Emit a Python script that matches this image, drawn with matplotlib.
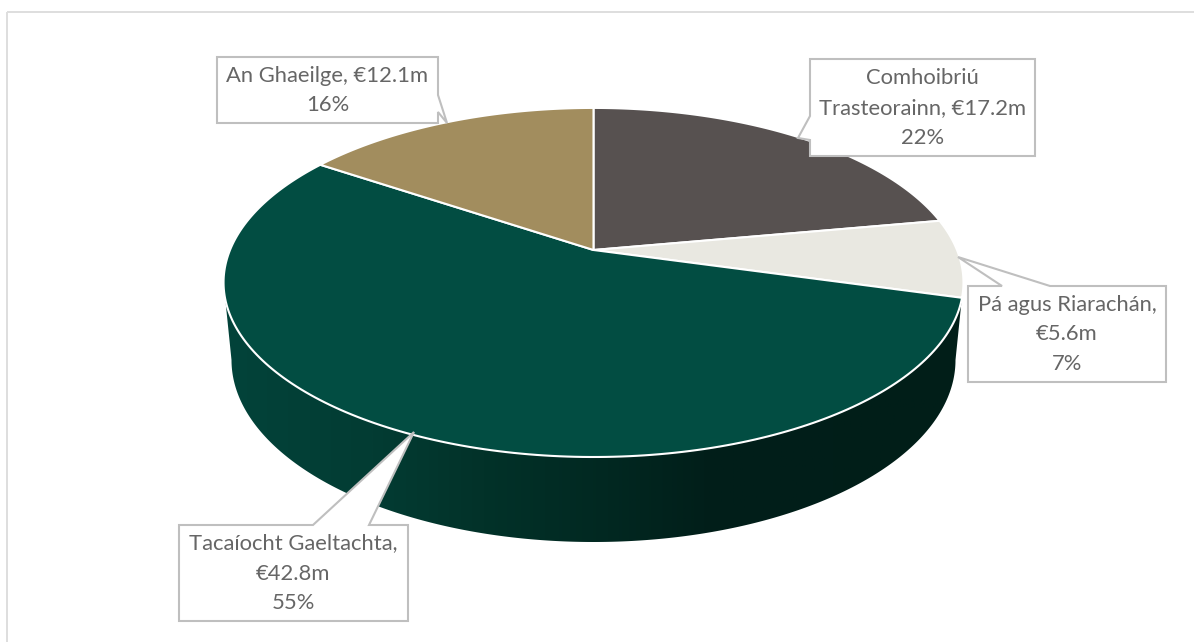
import numpy as np
import matplotlib
matplotlib.use('Agg')
import matplotlib.pyplot as plt
from matplotlib.patches import Polygon

# Chart data
categories = ['Comhoibriú Trasteorainn', 'Pá agus Riarachán', 'Tacaíocht Gaeltachta', 'An Ghaeilge']
amounts = [17.2, 5.6, 42.8, 12.1]
percents = [22, 7, 55, 16]
colors = ['#575150', '#E9E8E1', '#024D42', '#A28D5E']

# Label text, with the line breaks of the reference
labels = ['Comhoibriú\nTrasteorainn, €17.2m\n22%',
          'Pá agus Riarachán,\n€5.6m\n7%',
          'Tacaíocht Gaeltachta,\n€42.8m\n55%',
          'An Ghaeilge, €12.1m\n16%']

# Callouts: box (x0, y0, x1, y1) and pointer path, in pixels
boxes = [(810, 59, 1035, 156), (968, 286, 1166, 382), (179, 525, 408, 621), (217, 57, 438, 123)]
outlines = [
    [(810, 59), (1035, 59), (1035, 156), (810, 156), (810, 140), (798, 138), (810, 116)],
    [(968, 286), (1002, 286), (958, 257), (1050, 286), (1166, 286), (1166, 382), (968, 382)],
    [(179, 525), (313, 525), (414, 432), (369, 525), (408, 525), (408, 621), (179, 621)],
    [(217, 57), (438, 57), (438, 95), (447, 123), (438, 112), (438, 123), (217, 123)],
]

# Pie geometry (perspective view of a tilted disc), pixels
apex_x, apex_y = 593.5, 250
scale_x, scale_y, persp = 363.5, 168.5, 0.186


def rim(angle):
    # angle is clockwise from the top of the disc
    u, v = np.sin(angle), np.cos(angle)
    w = 1 + persp * v
    return apex_x + scale_x * u / w, apex_y - scale_y * v / w


fig = plt.figure(figsize=(11.94, 6.42), dpi=100, facecolor='white')
ax = fig.add_axes([0, 0, 1, 1])
ax.set_xlim(0, 1194)
ax.set_ylim(642, 0)
ax.set_axis_off()

# Outer chart frame, only the top and left sides are inside the picture
ax.add_patch(plt.Rectangle((7, 12), 1200, 640, fill=False, ec='#DEDEDE', lw=1.4))

# Side wall of the pie, a horizontal gradient clipped to the wall shape
side = np.arccos(-persp)
ang = np.linspace(side, 2 * np.pi - side, 400)
top_x, top_y = rim(ang)
low_t = np.linspace(0, np.pi, 400)
low_x = 593.5 + 362 * np.cos(low_t)
low_y = 360 + 182 * np.sin(low_t)
wall = Polygon(np.r_[np.c_[top_x, top_y], np.c_[low_x[::-1], low_y[::-1]]], closed=True, fc='none', ec='none')
ax.add_patch(wall)

stops = [0.0, 0.2, 0.35, 0.52, 0.65, 1.0]
shades = ['#02433A', '#033C33', '#023229', '#012821', '#011F1A', '#011E18']
cmap = matplotlib.colors.LinearSegmentedColormap.from_list('wall', list(zip(stops, shades)))
grad = ax.imshow(np.linspace(0, 1, 512)[None, :], cmap=cmap, aspect='auto',
                 extent=(224, 963, 545, 250), zorder=1)
grad.set_clip_path(wall)
ax.set_xlim(0, 1194)
ax.set_ylim(642, 0)

# Top surface wedges, angles come from the values
total = sum(amounts)
edges = np.r_[0, np.cumsum(amounts)] / total * 2 * np.pi
for i in range(len(amounts)):
    t = np.linspace(edges[i], edges[i + 1], 200)
    x, y = rim(t)
    pts = np.r_[[[apex_x, apex_y]], np.c_[x, y]]
    ax.add_patch(Polygon(pts, closed=True, fc=colors[i], ec='white', lw=1.5, joinstyle='round', zorder=2))

# Callouts
for i in range(len(labels)):
    ax.add_patch(Polygon(outlines[i], closed=True, fc='white', ec='#BFBFBF', lw=1.5, zorder=3))
    bx0, by0, bx1, by1 = boxes[i]
    ax.text((bx0 + bx1) / 2, (by0 + by1) / 2 + 0.5, labels[i], ha='center', va='center',
            color='#666666', fontsize=15.8, family='Lato',
            linespacing=1.62, zorder=4)

fig.savefig('out.png', dpi=100)
